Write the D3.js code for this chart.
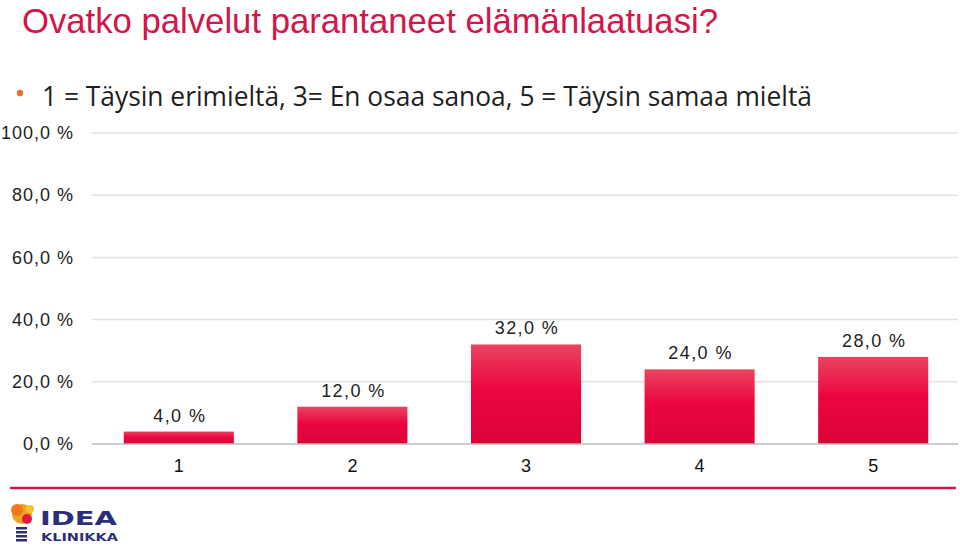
<!DOCTYPE html>
<html>
<head>
<meta charset="utf-8">
<script src="https://cdn.jsdelivr.net/npm/d3@7"></script>
<style>
  body { margin: 0; background: #fff; }
  svg { display: block; }
</style>
</head>
<body>
<svg id="chart" width="960" height="551"></svg>
<script>
var categories = ["1", "2", "3", "4", "5"];
var values = [4.0, 12.0, 32.0, 24.0, 28.0];
var yTicks = [0, 20, 40, 60, 80, 100];
var titleText = "Ovatko palvelut parantaneet elämänlaatuasi?";
var bulletText = "1 = Täysin erimieltä, 3= En osaa sanoa, 5 = Täysin samaa mieltä";

var svg = d3.select('#chart');
var fmt = function (v) { return d3.format('.1f')(v).replace('.', ',') + ' %'; };

var defs = svg.append('defs');
var grad = defs.append('linearGradient').attr('id', 'barGrad')
    .attr('x1', 0).attr('y1', 0).attr('x2', 0).attr('y2', 1);
grad.append('stop').attr('offset', '0%').attr('stop-color', '#e9445f');
grad.append('stop').attr('offset', '45%').attr('stop-color', '#ec0640');
grad.append('stop').attr('offset', '100%').attr('stop-color', '#dc0339');

// title + bullet line
svg.append('text')
    .attr('x', 22).attr('y', 33)
    .attr('font-family', 'Liberation Sans, Arial, sans-serif')
    .attr('font-size', 35)
    .attr('fill', '#d3154a')
    .attr('textLength', 696).attr('lengthAdjust', 'spacingAndGlyphs')
    .text(titleText);

svg.append('circle').attr('cx', 20).attr('cy', 93).attr('r', 3.2).attr('fill', '#e8702a');
svg.append('text')
    .attr('x', 42).attr('y', 106)
    .attr('font-family', 'Open Sans, sans-serif')
    .attr('font-size', 28)
    .attr('fill', '#1f1f1f')
    .attr('textLength', 770).attr('lengthAdjust', 'spacingAndGlyphs')
    .text(bulletText);

var margin = { left: 92, right: 0, top: 133, bottom: 107 };
var width = 960 - margin.left - margin.right;
var height = 551 - margin.top - margin.bottom;

var g = svg.append('g').attr('transform', 'translate(' + margin.left + ',' + margin.top + ')');

var x = d3.scaleBand().domain(categories).range([0, width]).paddingInner(0.366).paddingOuter(0.183);
var y = d3.scaleLinear().domain([0, 100]).range([height, 0]);

// gridlines
g.selectAll('line.grid').data(yTicks.filter(function (d) { return d > 0; }))
    .enter().append('line').attr('class', 'grid')
    .attr('x1', 0).attr('x2', width - 2)
    .attr('y1', function (d) { return y(d); }).attr('y2', function (d) { return y(d); })
    .attr('stroke', '#e2e2e2').attr('stroke-width', 1.5);

// y axis labels
var yAxis = d3.axisLeft(y).tickValues(yTicks).tickSize(0).tickPadding(18).tickFormat(fmt);
var ya = g.append('g').call(yAxis);
ya.select('.domain').remove();
ya.selectAll('text')
    .attr('font-family', 'Liberation Sans, Arial, sans-serif')
    .attr('font-size', 18).attr('letter-spacing', 1.0).attr('fill', '#222');

// bars
g.selectAll('rect.bar').data(values).enter().append('rect').attr('class', 'bar')
    .attr('x', function (d, i) { return x(categories[i]); })
    .attr('width', x.bandwidth())
    .attr('y', function (d) { return y(d); })
    .attr('height', function (d) { return height - y(d); })
    .attr('fill', 'url(#barGrad)');

// baseline
g.append('line').attr('x1', 0).attr('x2', width - 2).attr('y1', height).attr('y2', height)
    .attr('stroke', '#bdbdbd').attr('stroke-width', 1.5);

// x axis labels
var xAxis = d3.axisBottom(x).tickSize(0).tickPadding(15);
var xa = g.append('g').attr('transform', 'translate(0,' + height + ')').call(xAxis);
xa.select('.domain').remove();
xa.selectAll('text')
    .attr('font-family', 'Liberation Sans, Arial, sans-serif')
    .attr('font-size', 18).attr('fill', '#111');

// value labels
g.selectAll('text.val').data(values).enter().append('text').attr('class', 'val')
    .attr('x', function (d, i) { return x(categories[i]) + x.bandwidth() / 2 + 1; })
    .attr('y', function (d) { return y(d) - 10; })
    .attr('text-anchor', 'middle')
    .attr('font-family', 'Liberation Sans, Arial, sans-serif')
    .attr('font-size', 18).attr('letter-spacing', 1.4).attr('fill', '#222')
    .text(fmt);

// footer rule
svg.append('line').attr('x1', 10).attr('x2', 956).attr('y1', 488).attr('y2', 488)
    .attr('stroke', '#d3154a').attr('stroke-width', 2.5);

// logo
var logo = svg.append('g').attr('transform', 'translate(10,500)');
logo.append('circle').attr('cx', 12).attr('cy', 14).attr('r', 10).attr('fill', '#f3a21d');
logo.append('circle').attr('cx', 7).attr('cy', 10).attr('r', 6).attr('fill', '#ef7a1e');
logo.append('circle').attr('cx', 17).attr('cy', 19).attr('r', 5).attr('fill', '#e3183f');
logo.append('circle').attr('cx', 20).attr('cy', 9).attr('r', 4).attr('fill', '#f6c42a');
logo.selectAll('rect.base').data([0, 1, 2, 3]).enter().append('rect').attr('class', 'base')
    .attr('x', 6).attr('y', function (d) { return 27 + d * 4; })
    .attr('width', 11).attr('height', 2.5).attr('fill', '#2b2f7a');
logo.append('text').attr('x', 30).attr('y', 25)
    .attr('font-family', 'DejaVu Sans, sans-serif').attr('font-weight', 'bold')
    .attr('font-size', 20).attr('fill', '#2b2f7a')
    .attr('textLength', 77).attr('lengthAdjust', 'spacingAndGlyphs')
    .text('IDEA');
logo.append('text').attr('x', 31).attr('y', 41)
    .attr('font-family', 'DejaVu Sans, sans-serif').attr('font-weight', 'bold')
    .attr('font-size', 11).attr('fill', '#2b2f7a')
    .attr('textLength', 77).attr('lengthAdjust', 'spacingAndGlyphs')
    .text('KLINIKKA');
</script>
</body>
</html>
